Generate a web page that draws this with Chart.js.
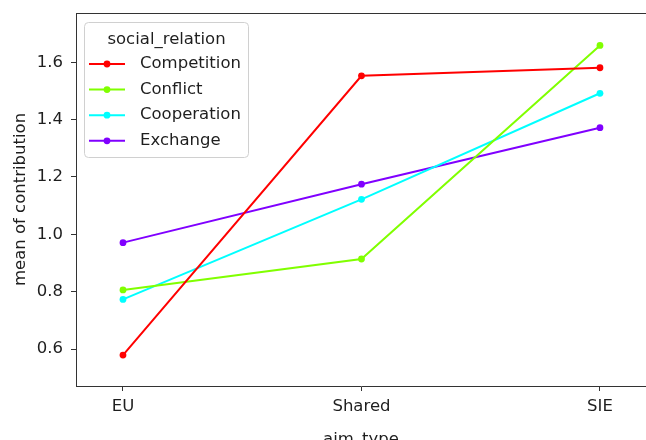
<!DOCTYPE html>
<html>
<head>
<meta charset="utf-8">
<script src="https://cdn.jsdelivr.net/npm/chart.js@4"></script>
<style>
  html, body { margin: 0; padding: 0; background: #fff; overflow: hidden; }
  #wrap { width: 646px; height: 440px; }
</style>
</head>
<body>
<div id="wrap"><canvas id="chart" width="646" height="440"></canvas></div>
<script>
var categories = ["EU", "Shared", "SIE"];
var seriesNames = ["Competition", "Conflict", "Cooperation", "Exchange"];
var competition = [0.579, 1.553, 1.581];
var conflict = [0.806, 0.914, 1.659];
var cooperation = [0.773, 1.122, 1.492];
var exchange = [0.971, 1.175, 1.372];
var seriesColors = ["#ff0000", "#80ff00", "#00ffff", "#8000ff"];
var yTicks = [0.6, 0.8, 1.0, 1.2, 1.4, 1.6];
var xTicks = [0, 1, 2];

var FONT = "DejaVu Sans";
var FONT_SIZE = 16.5;
var TEXT = "#1e1e1e";
var SPINE = "#333333";

function points(values) {
  return values.map(function (v, i) {
    return { x: i, y: v };
  });
}

function lineDataset(label, values, color) {
  return {
    label: label,
    data: points(values),
    borderColor: color,
    backgroundColor: color,
    borderWidth: 2,
    pointRadius: 3.4,
    pointBorderWidth: 0,
    pointBackgroundColor: color,
    tension: 0,
  };
}

// no extra room for tick labels, the layout padding decides the plot box
function noPadding(scale) {
  scale.paddingTop = 0;
  scale.paddingBottom = 0;
  scale.paddingLeft = 0;
  scale.paddingRight = 0;
}

// top spine + matplotlib style legend
var framePlugin = {
  id: "frame",
  afterDraw: function (chart) {
    var ctx = chart.ctx;
    var a = chart.chartArea;
    ctx.save();
    ctx.strokeStyle = SPINE;
    ctx.lineWidth = 1;
    ctx.beginPath();
    ctx.moveTo(a.left, a.top + 0.5);
    ctx.lineTo(a.right, a.top + 0.5);
    ctx.stroke();

    // legend box
    var bx = 84.5, by = 22.5, bw = 164, bh = 135, r = 4;
    ctx.fillStyle = "rgba(255,255,255,0.8)";
    ctx.strokeStyle = "#d0d0d0";
    ctx.beginPath();
    ctx.roundRect(bx, by, bw, bh, r);
    ctx.fill();
    ctx.stroke();

    ctx.font = FONT_SIZE + "px '" + FONT + "'";
    ctx.fillStyle = TEXT;
    ctx.textBaseline = "middle";
    ctx.textAlign = "center";
    ctx.fillText("social_relation", bx + bw / 2, 40);

    ctx.textAlign = "left";
    chart.data.datasets.forEach(function (ds, i) {
      var y = 64 + i * 25.6;
      ctx.strokeStyle = ds.borderColor;
      ctx.lineWidth = 2;
      ctx.beginPath();
      ctx.moveTo(89, y);
      ctx.lineTo(125, y);
      ctx.stroke();
      ctx.fillStyle = ds.borderColor;
      ctx.beginPath();
      ctx.arc(107, y, 3.4, 0, Math.PI * 2);
      ctx.fill();
      ctx.fillStyle = TEXT;
      ctx.fillText(ds.label, 140, y);
    });
    ctx.restore();
  },
};

var ctx = document.getElementById("chart").getContext("2d");
new Chart(ctx, {
  type: "line",
  data: {
    datasets: [
      lineDataset(seriesNames[0], competition, seriesColors[0]),
      lineDataset(seriesNames[1], conflict, seriesColors[1]),
      lineDataset(seriesNames[2], cooperation, seriesColors[2]),
      lineDataset(seriesNames[3], exchange, seriesColors[3]),
    ],
  },
  options: {
    responsive: false,
    animation: false,
    devicePixelRatio: 1,
    layout: {
      autoPadding: false,
      padding: { top: 13, left: 0, right: 0, bottom: 0 },
    },
    plugins: {
      legend: { display: false },
      tooltip: { enabled: false },
    },
    scales: {
      x: {
        type: "linear",
        min: -0.197,
        max: 2.193,
        afterFit: function (scale) {
          scale.height = 54;
          noPadding(scale);
        },
        afterBuildTicks: function (scale) {
          scale.ticks = xTicks.map(function (v) {
            return { value: v };
          });
        },
        border: { display: true, color: SPINE, width: 1 },
        grid: {
          display: true,
          drawOnChartArea: false,
          drawTicks: true,
          tickLength: 5,
          color: SPINE,
        },
        ticks: {
          color: TEXT,
          padding: 6,
          maxRotation: 0,
          font: { family: FONT, size: FONT_SIZE, lineHeight: 1.15 },
          callback: function (v) {
            return categories[v];
          },
        },
        title: {
          display: true,
          text: "aim_type",
          color: TEXT,
          padding: { top: 0, bottom: 0 },
          font: { family: FONT, size: FONT_SIZE, lineHeight: 0.0625 },
        },
      },
      y: {
        min: 0.471,
        max: 1.772,
        afterFit: function (scale) {
          scale.width = 76;
          noPadding(scale);
        },
        afterBuildTicks: function (scale) {
          scale.ticks = yTicks.map(function (v) {
            return { value: v };
          });
        },
        border: { display: true, color: SPINE, width: 1 },
        grid: {
          display: true,
          drawOnChartArea: false,
          drawTicks: true,
          tickLength: 5,
          color: SPINE,
        },
        ticks: {
          color: TEXT,
          padding: 8,
          font: { family: FONT, size: FONT_SIZE },
          callback: function (v) {
            return Number(v).toFixed(1);
          },
        },
        title: {
          display: true,
          text: "mean of contribution",
          color: TEXT,
          padding: { top: 12.5, bottom: 0 },
          font: { family: FONT, size: FONT_SIZE, lineHeight: 1 },
        },
      },
    },
  },
  plugins: [framePlugin],
});
</script>
</body>
</html>
